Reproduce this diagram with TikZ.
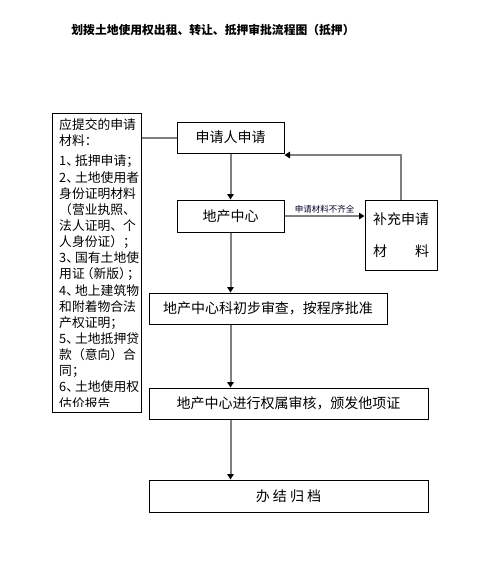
\documentclass[tikz,border=0pt]{standalone}
\usepackage{fontspec}
\newfontfamily\cjk{Noto Sans CJK SC}
\usetikzlibrary{arrows.meta}
\tikzset{
  flowbox/.style={draw=black, line width=1pt, inner sep=0pt, font=\cjk\fontsize{14}{16}\selectfont, anchor=center},
  flow/.style={draw=black!50, line width=2pt, -{Triangle[black,width=6.5pt,length=5.5pt]}},
  link/.style={draw=black!50, line width=2pt},
}
\newcommand{\numsep}{、\kern-4pt}
\begin{document}
\begin{tikzpicture}[x=1pt,y=-1pt]
\useasboundingbox (0,0) rectangle (487,582);
\fill[white] (0,0) rectangle (487,582);
% title
\node[font=\cjk\bfseries\fontsize{11.8}{13}\selectfont, inner sep=0pt] (title) at (213,30) {划拨土地使用权出租、转让、抵押审批流程图（抵押）};
% left materials box
\begin{scope}
\clip (52,113) rectangle (141,406.5);
\node[anchor=north west, inner sep=0pt, align=left, font=\cjk\fontsize{12.8}{16.15}\selectfont] (mattext) at (59,118.5) {应提交的申请\\材料：\\[4pt]
1\numsep 抵押申请；\\
2\numsep 土地使用者\\
身份证明材料\\
（营业执照、\\
法人证明、个\\
人身份证）；\\
3\numsep 国有土地使\\
用证\kern-4pt（新版）\kern-5pt；\\
4\numsep 地上建筑物\\
和附着物合法\\
产权证明；\\
5\numsep 土地抵押贷\\
款（意向）合\\
同；\\
6\numsep 土地使用权\\
估价报告};
\end{scope}
\node[draw=black, line width=1pt, minimum width=89pt, minimum height=299pt, inner sep=0pt] (matbox) at (96.5,262.5) {};
% flow boxes
\node[flowbox, minimum width=107pt, minimum height=31pt] (app) at (230.5,137.5) {申请人申请};
\node[flowbox, minimum width=107pt, minimum height=32pt] (center) at (230.5,216) {地产中心};
\node[flowbox, minimum width=72pt, minimum height=70pt, align=center, font=\cjk\fontsize{14}{32}\selectfont] (supp) at (401,235) {\raisebox{-3pt}{补充申请}\\\raisebox{-3pt}{\makebox[4em][s]{材\hfill 料}}};
\node[flowbox, minimum width=238pt, minimum height=31pt] (review) at (268,308.5) {地产中心科初步审查，按程序批准};
\node[flowbox, minimum width=279pt, minimum height=31pt] (verify) at (288.5,403.5) {地产中心进行权属审核，颁发他项证};
\node[flowbox, minimum width=279pt, minimum height=32pt] (done) at (288.5,496) {办\ 结\ 归\ 档};
% connectors
\draw[link] (matbox.east |- app.west) -- (app.west);
\draw[flow] (app.south) -- (center.north);
\draw[flow] (center.east) -- node[above, inner sep=2pt, font=\cjk\fontsize{8.5}{9}\selectfont, text=black!85!blue] (lbl) {申请材料不齐全} (supp.west |- center.east);
\draw[flow] (supp.north) |- ([yshift=-1.5pt]app.south east);
\draw[flow] (center.south) -- (center.south |- review.north);
\draw[flow] (center.south |- review.south) -- (center.south |- verify.north);
\draw[flow] (center.south |- verify.south) -- (center.south |- done.north);
\end{tikzpicture}
\end{document}
